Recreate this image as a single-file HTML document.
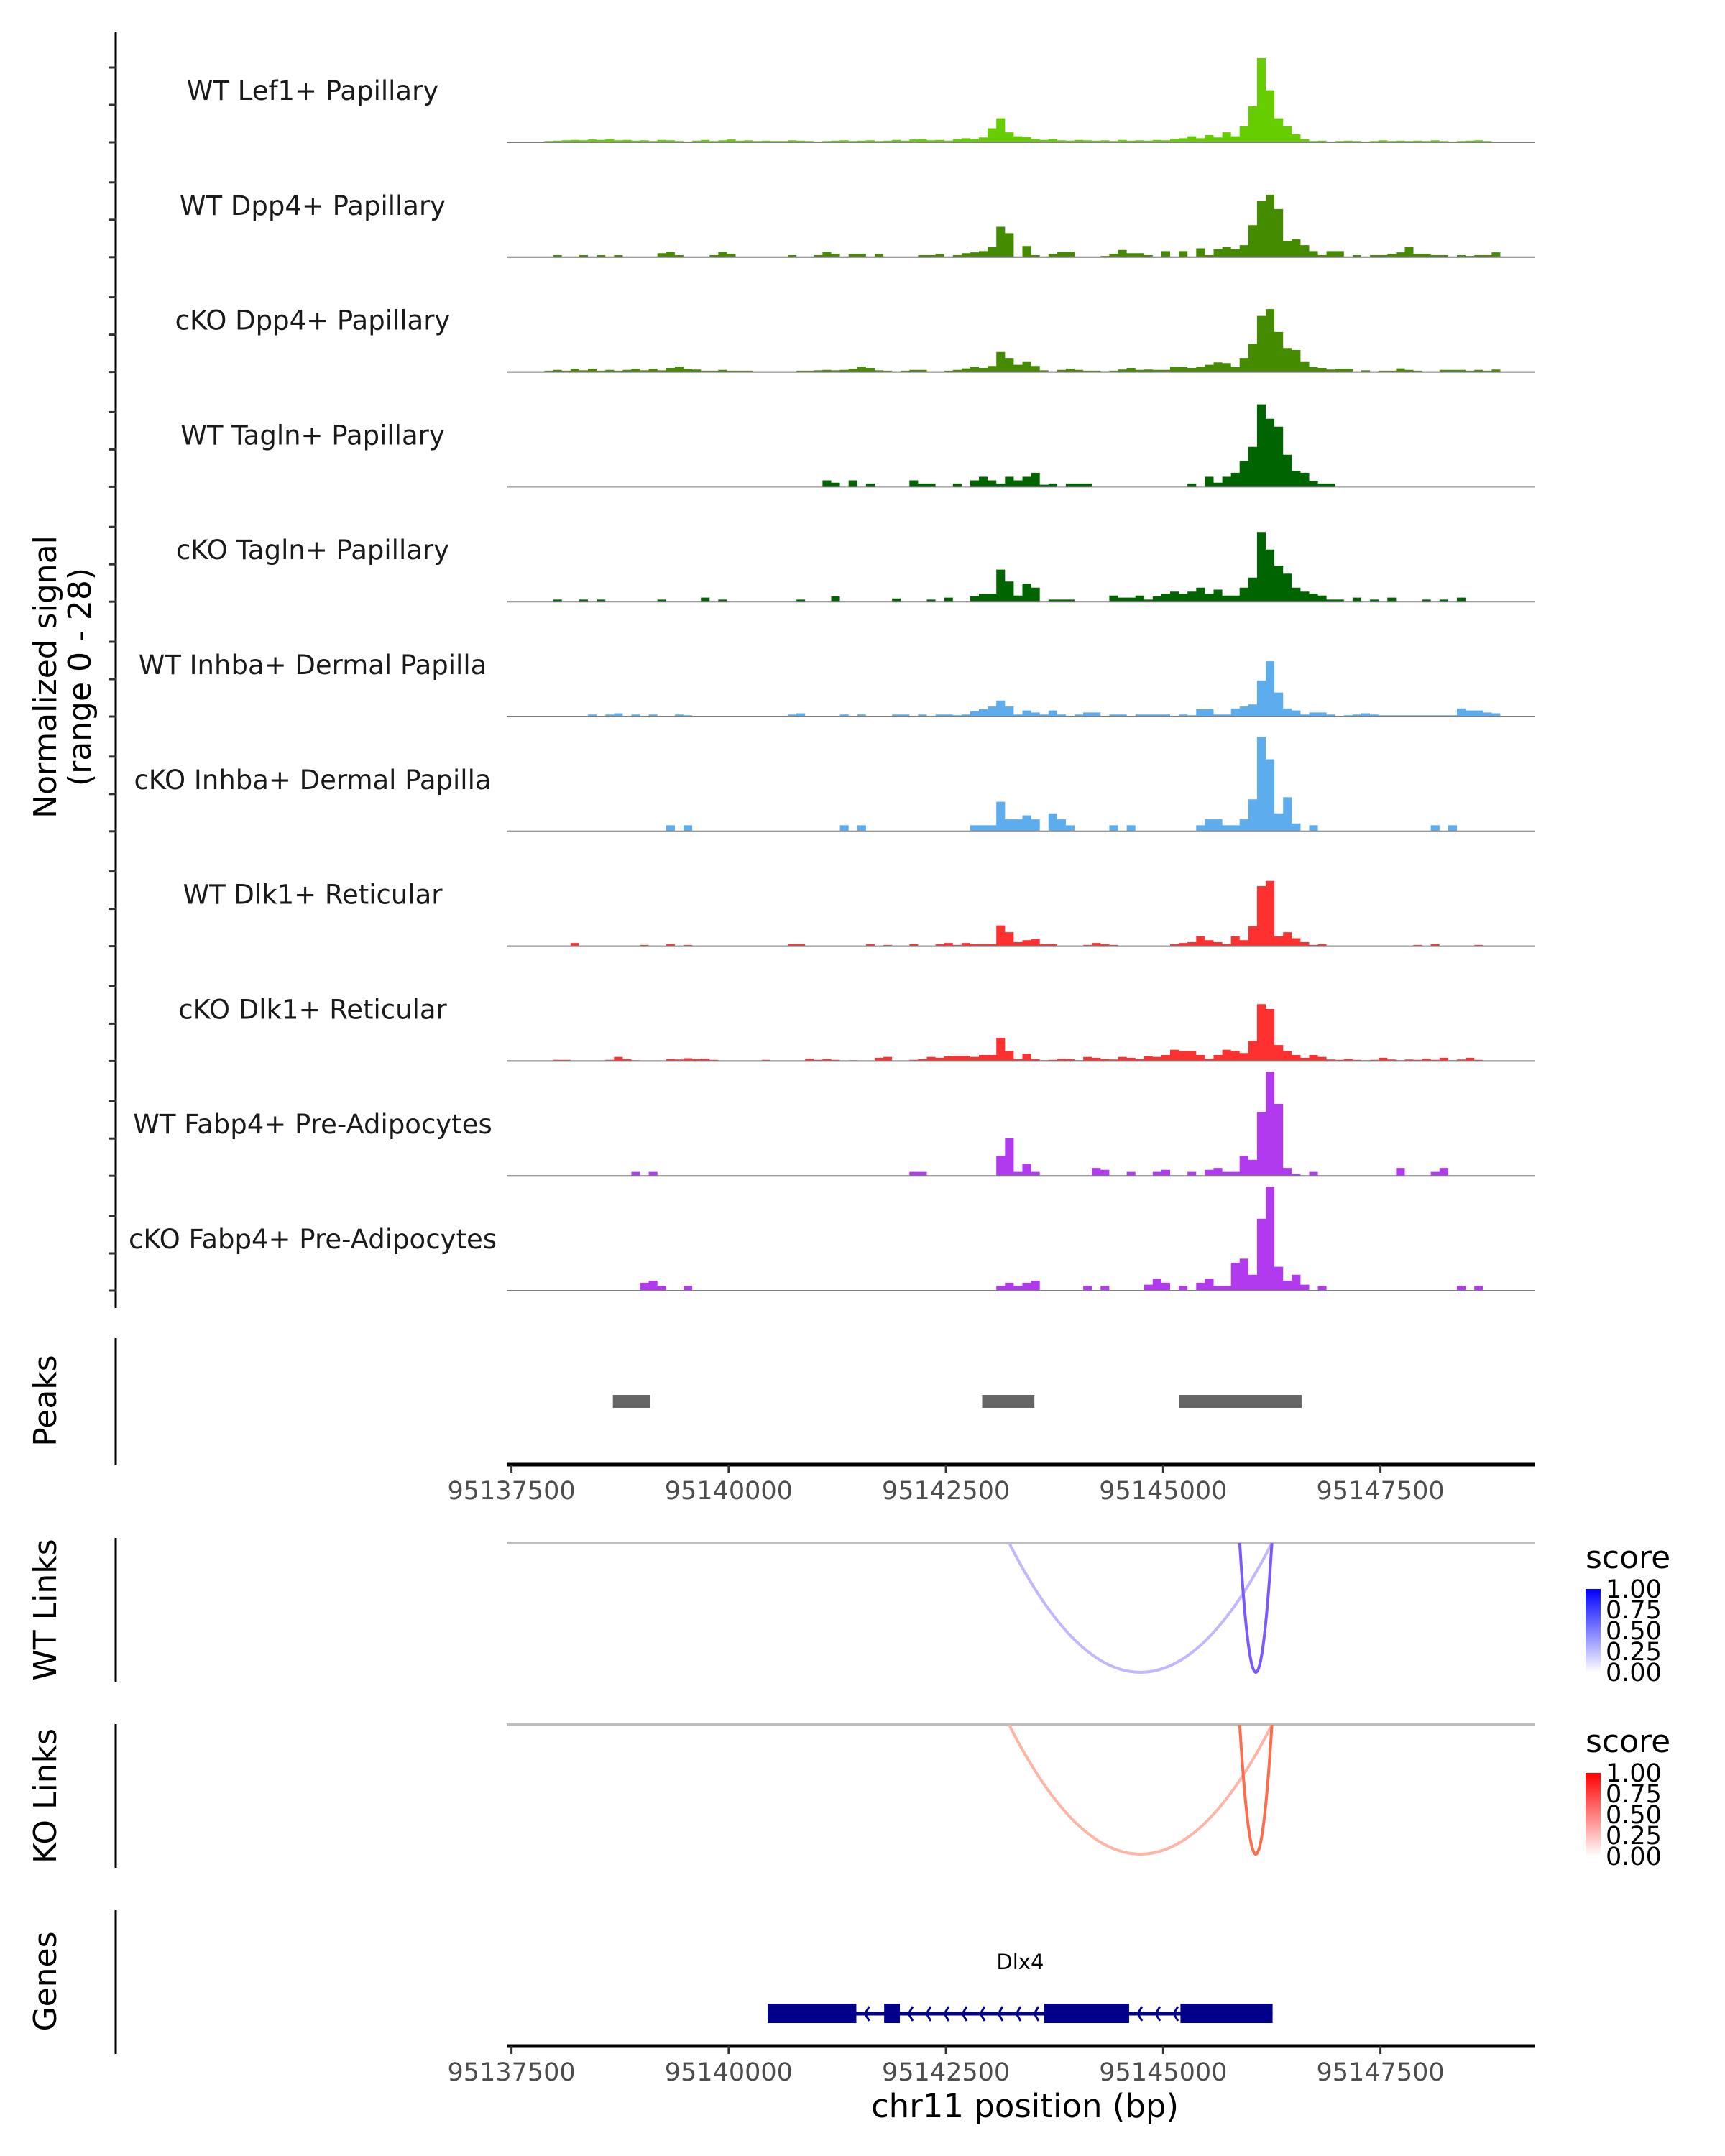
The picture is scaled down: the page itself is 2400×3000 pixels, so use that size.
<!DOCTYPE html>
<html><head><meta charset="utf-8"><style>
html,body{margin:0;padding:0;background:#fff;}
svg{display:block;font-family:"DejaVu Sans","Liberation Sans",sans-serif;}
</style></head><body>
<svg id="chart" width="2400" height="3000" viewBox="0 0 2400 3000" xmlns="http://www.w3.org/2000/svg">
<defs>
<linearGradient id="gradBlue" x1="0" y1="1" x2="0" y2="0"><stop offset="0" stop-color="#ffffff"/><stop offset="1" stop-color="#0000ff"/></linearGradient>
<linearGradient id="gradRed" x1="0" y1="1" x2="0" y2="0"><stop offset="0" stop-color="#ffffff"/><stop offset="1" stop-color="#ff0000"/></linearGradient>
</defs>
<g id="tracks"></g>
<g id="bottom"></g>
</svg>
<script>
const NS = "http://www.w3.org/2000/svg";
// ---- data ----
const binStart = 95137780;
const binSize = 100;
const trackNames = ["WT Lef1+ Papillary","WT Dpp4+ Papillary","cKO Dpp4+ Papillary","WT Tagln+ Papillary","cKO Tagln+ Papillary","WT Inhba+ Dermal Papilla","cKO Inhba+ Dermal Papilla","WT Dlk1+ Reticular","cKO Dlk1+ Reticular","WT Fabp4+ Pre-Adipocytes","cKO Fabp4+ Pre-Adipocytes"];
const trackColors = ["#66CD00","#458B00","#458B00","#006400","#006400","#5CACEE","#5CACEE","#FF3030","#FF3030","#B23AEE","#B23AEE"];
const sigLef1 = [0,0.3,0.4,0.5,0.6,0.5,0.7,0.6,0.8,0.5, 0.6,0.4,0.5,0.3,0.6,0.5,0.3,0.2,0.4,0.6, 0.3,0.5,0.7,0.4,0.5,0.3,0.4,0.3,0.3,0.5, 0.4,0.3,0.2,0.3,0.4,0.5,0.3,0.4,0.5,0.3, 0.4,0.6,0.4,0.7,0.8,0.5,0.6,0.4,0.8,1.0, 0.8,1.2,3.5,6.0,2.5,1.5,1.3,0.8,0.6,0.8, 0.5,0.4,0.6,0.5,0.4,0.5,0.3,0.6,0.4,0.5, 0.4,0.6,0.5,0.8,1.0,1.5,1.0,1.8,1.2,2.5, 1.5,4.0,9.0,21.0,13.0,6.0,4.0,2.0,0.8,0.3, 0.4,0.2,0.3,0.4,0.3,0.2,0.3,0.5,0.3,0.4, 0.3,0.4,0.3,0.5,0.3,0.2,0.3,0.4,0.5,0.3,0,0];
const sigWtDpp4 = [0,0,0.5,0,0,0.5,0,0.5,0,0.5, 0,0,0,0,1.0,1.3,0.5,0,0,0, 0.5,1.3,0.8,0,0,0,0,0,0,0.5, 0,0,0.5,1.3,0.8,0,0.8,0.8,0,0.8, 0,0,0,0,0.5,0.5,0.8,0,0.5,1.0, 1.2,1.5,2.5,7.6,6.0,0,2.8,0.5,0,0.8, 1.3,1.3,0,0,0,0.3,0.8,1.8,1.0,1.0, 0.5,0,1.5,0,1.5,0,2.2,0.5,2.0,2.5, 2.0,3.0,8.0,14.0,15.6,12.0,4.0,4.5,3.0,1.5, 0.5,1.5,1.5,0,0.5,0,0.5,0.5,0.8,1.2, 2.5,0.8,0.8,0.5,0.5,0,0.5,0.3,0.5,0.5,1.2,0];
const sigKoDpp4 = [0,0.3,0.5,0.3,0.8,0.4,0.8,0.3,0.5,0.3, 0.5,0.8,0.4,0.8,0.4,1.0,1.3,0.8,0.6,0.3, 0.3,0.5,0.3,0.3,0.3,0,0,0,0,0, 0.3,0.3,0.4,0.5,0.4,0.5,0.8,1.3,1.0,0.4, 0.3,0,0.3,0.5,0.5,0,0,0.3,0.5,0.9, 1.2,1.0,1.5,5.0,3.5,1.8,2.5,1.5,0.4,0, 0.5,0.8,0.5,0.3,0.3,0.2,0.3,0.6,1.0,0.5, 0.6,0.5,0.5,1.3,1.2,1.0,1.3,1.8,2.4,2.2, 1.2,3.5,7.0,14.0,15.7,10.0,6.0,5.5,2.5,1.2, 1.0,0.6,0.8,0.8,0,0.4,0,0.3,0.3,0.9, 0.5,0.3,0,0,0.5,0.5,0.5,0.3,0.5,0.3,0.6,0];
const sigWtTagln = [0,0,0,0,0,0,0,0,0,0, 0,0,0,0,0,0,0,0,0,0, 0,0,0,0,0,0,0,0,0,0, 0,0,0,1.6,1.0,0,1.6,0,0.8,0, 0,0,0,1.6,0.8,0.8,0,0,0.8,0, 1.6,2.5,1.6,0.8,2.5,1.6,2.5,3.5,0.5,0.8, 0,0.8,0.8,0.8,0,0,0,0,0,0, 0,0,0,0,0,0.8,0,2.5,1.0,2.5, 3.5,6.5,10.0,20.6,17.0,15.0,8.0,4.0,3.5,1.5, 0.8,0.8,0,0,0,0,0,0,0,0, 0,0,0,0,0,0,0,0,0,0,0,0];
const sigKoTagln = [0,0,0.5,0,0,0.5,0,0.5,0,0, 0,0,0,0,0.5,0,0,0,0,1.0, 0,0.5,0,0,0,0,0,0,0,0, 0.5,0,0,0,1.3,0,0,0,0,0, 0,0.8,0,0,0,0.5,0,1.0,0,0, 1.3,2.0,2.0,8.0,5.0,1.5,4.5,3.5,0,0.5, 0.5,0.5,0,0,0,0,1.5,1.0,1.0,1.5, 0.5,1.3,2.0,2.5,2.0,2.5,3.5,2.0,3.0,1.5, 1.5,3.5,6.0,17.4,13.0,9.0,7.0,3.5,2.5,2.0, 1.5,0.5,0.5,0,1.0,0,0.5,0,1.0,0, 0,0,0.5,0,0.5,0,1.0,0,0,0,0,0];
const sigWtInhba = [0,0,0,0,0,0,0.5,0,0.5,0.8, 0,0.5,0,0.5,0,0,0.5,0.3,0,0, 0,0,0,0,0,0,0,0,0,0.5, 0.8,0,0,0,0,0.5,0,0.5,0,0, 0,0.5,0.5,0,0.5,0,0.5,0.5,0.3,0.5, 1.3,1.8,2.5,4.0,2.5,0.5,1.5,1.0,0.5,1.5, 0.5,0,0.5,1.0,1.0,0,0.5,0.5,0,0.5, 0.5,0.5,0.5,0,0.5,0.3,1.8,1.8,0.5,0.5, 2.0,2.5,3.0,9.0,13.8,6.0,2.0,1.5,0.5,1.0, 1.0,0.5,0,0.3,0.5,0.8,0.5,0.3,0.3,0.3, 0.3,0.3,0.3,0.3,0.3,0.3,2.0,1.5,1.5,1.0,0.8,0];
const sigKoInhba = [0,0,0,0,0,0,0,0,0,0, 0,0,0,0,0,1.5,0,1.5,0,0, 0,0,0,0,0,0,0,0,0,0, 0,0,0,0,0,1.5,0,1.5,0,0, 0,0,0,0,0,0,0,0,0,0, 1.5,1.5,1.5,7.4,3.0,3.0,4.0,3.0,0,4.5, 3.0,1.5,0,0,0,0,1.5,0,1.5,0, 0,0,0,0,0,0,1.5,3.0,3.0,1.5, 1.5,3.0,8.0,23.6,18.0,4.5,8.5,2.0,0,1.5, 0,0,0,0,0,0,0,0,0,0, 0,0,0,1.5,0,1.5,0,0,0,0,0,0];
const sigWtDlk1 = [0,0,0,0,0.8,0,0,0,0,0, 0,0,0.3,0,0,0.5,0,0.3,0,0, 0,0,0,0,0,0,0,0,0,0.5, 0.5,0,0,0,0,0,0,0,0.5,0, 0.3,0,0,0.5,0,0,0.5,0.8,0.3,0.8, 0.5,0.5,0.5,5.2,3.5,1.0,1.5,1.8,0.5,0.5, 0,0,0,0.3,0.8,0.5,0.3,0,0,0, 0,0,0,0.5,0.8,1.0,2.5,1.5,1.0,0.5, 2.5,1.5,5.0,15.0,16.3,2.5,3.5,2.0,1.0,0.3, 0.5,0,0,0,0,0,0,0,0,0, 0,0.3,0,0.5,0,0,0,0,0.3,0,0,0];
const sigKoDlk1 = [0,0,0.3,0.3,0,0,0,0,0.3,1.0, 0.5,0.2,0,0,0,0.5,0.4,0.7,0.5,0.6, 0.3,0,0,0,0,0,0.3,0,0,0, 0,0.6,0.3,0.5,0.3,0,0.2,0,0,0.8, 1.0,0,0,0.3,0.5,1.0,0.8,1.2,1.3,1.3, 1.0,1.5,1.5,5.8,2.5,0.5,1.8,0.5,0.2,0.3, 0.6,0.5,0.2,1.0,0.8,0.5,0.4,1.0,0.8,0.5, 1.2,1.0,1.5,2.8,2.5,2.5,1.5,0.6,1.5,2.8, 2.5,2.0,5.0,14.2,13.0,4.0,2.5,1.5,0.8,1.5, 1.0,0.4,0.3,0.5,0.3,0.2,0.3,0.8,0.4,0.2, 0.4,0.3,0.6,0.3,0.8,0.2,0.4,0.8,0.3,0,0,0];
const sigWtFabp4 = [0,0,0,0,0,0,0,0,0,0, 0,1.0,0,1.0,0,0,0,0,0,0, 0,0,0,0,0,0,0,0,0,0, 0,0,0,0,0,0,0,0,0,0, 0,0,0,1.0,1.0,0,0,0,0,0, 0,0,0,5.0,9.4,1.0,3.0,1.0,0,0, 0,0,0,0,2.0,1.5,0,0,1.0,0, 0,1.0,1.5,0,0,1.0,0,1.5,2.0,1.0, 1.0,5.0,4.0,16.0,26.0,18.0,2.0,0.5,0,1.0, 0,0,0,0,0,0,0,0,0,2.0, 0,0,0,1.0,2.0,0,0,0,0,0,0,0];
const sigKoFabp4 = [0,0,0,0,0,0,0,0,0,0, 0,0,2.0,2.5,1.2,0,0,1.2,0,0, 0,0,0,0,0,0,0,0,0,0, 0,0,0,0,0,0,0,0,0,0, 0,0,0,0,0,0,0,0,0,0, 0,0,0,1.2,2.0,1.2,2.0,2.5,0,0, 0,0,0,1.2,0,1.2,0,0,0,0, 1.5,3.0,2.0,0,1.2,0,2.0,3.0,1.2,1.2, 7.0,8.0,4.0,18.0,26.0,6.0,2.5,4.0,1.5,0, 1.2,0,0,0,0,0,0,0,0,0, 0,0,0,0,0,0,1.2,0,1.2,0,0,0];
const signals = [sigLef1,sigWtDpp4,sigKoDpp4,sigWtTagln,sigKoTagln,sigWtInhba,sigKoInhba,sigWtDlk1,sigKoDlk1,sigWtFabp4,sigKoFabp4];
const xTicks = [95137500,95140000,95142500,95145000,95147500];
const peakStarts = [95138667,95142917,95145179];
const peakEnds = [95139094,95143518,95146593];
const linkStarts = [95143227,95145881];
const linkEnds = [95146251,95146251];
const wtLinkScores = [0.35,0.8];
const koLinkScores = [0.4,0.8];
const legendTicks = ["1.00","0.75","0.50","0.25","0.00"];
const exonStarts = [95140450,95141789,95143630,95145199];
const exonEnds = [95141469,95141970,95144608,95146259];
const geneStart = 95140450, geneEnd = 95146259;
const yMax = 28;

// ---- scales ----
const X0 = 711.6, PXBP = 0.1209;
function xs(bp){ return X0 + (bp - 95137500) * PXBP; }
const base0 = 198, trackStep = 159.8, trackH = 156;
function ys(v, t){ return base0 + t*trackStep - v/yMax*trackH; }
const PL = 705, PR = 2136;

const tracks = document.getElementById('tracks');
const bottom = document.getElementById('bottom');
function mk(tag, attrs, parent){ const e=document.createElementNS(NS,tag); for(const k in attrs) e.setAttribute(k,attrs[k]); (parent||tracks).appendChild(e); return e; }

// left axis
let ax = mk('line',{x1:161,y1:45,x2:161,y2:1820,stroke:'#000','stroke-width':3});


for(let t=0;t<11;t++){
  for(let k=0;k<3;k++){
    const yy = base0 + t*trackStep - k*52;
    const tk = mk('line',{x1:151,y1:yy,x2:161,y2:yy,stroke:'#333','stroke-width':3});
    
    
  }
}
let yt = mk('text',{x:0,y:0,'font-size':44,'text-anchor':'middle',fill:'#000',transform:'translate(78,942) rotate(-90)'});


yt.innerHTML = '<tspan x="0" dy="0">Normalized signal</tspan><tspan x="0" dy="48">(range 0 - 28)</tspan>';

// tracks
signals.forEach((arr,t)=>{
  const g = mk('g',{});
  
  
  const b = ys(0,t);
  let d = 'M'+xs(binStart).toFixed(1)+' '+b;
  arr.forEach((v,i)=>{
    const xa = xs(binStart+i*binSize), xb = xs(binStart+(i+1)*binSize), yv = ys(v,t);
    d += ' L'+xa.toFixed(1)+' '+yv.toFixed(1)+' L'+xb.toFixed(1)+' '+yv.toFixed(1);
  });
  d += ' L'+xs(binStart+arr.length*binSize).toFixed(1)+' '+b+' Z';
  const p = mk('path',{d:d,fill:trackColors[t],stroke:'none'},g);
  
  
  const bl = mk('line',{x1:PL,y1:b,x2:PR,y2:b,stroke:'#7f7f7f','stroke-width':2},g);
  
  
  const lb = mk('text',{x:435,y:b-59,'font-size':37,'text-anchor':'middle',fill:'#1a1a1a'},g);
  
  
  lb.textContent = trackNames[t];
});

// bottom panel axes + labels
function sideAxis(y1,y2,label,ly,name){
  const l = mk('line',{x1:161,y1:y1,x2:161,y2:y2,stroke:'#000','stroke-width':3},bottom);
  
  
  const tx = mk('text',{x:0,y:0,'font-size':44,'text-anchor':'middle',fill:'#000',transform:'translate(78,'+ly+') rotate(-90)'},bottom);
  
  
  tx.textContent = label;
}
sideAxis(1862,2039,'Peaks',1949,'peaks');
sideAxis(2140,2340,'WT Links',2240,'wt-links');
sideAxis(2399,2599,'KO Links',2499,'ko-links');
sideAxis(2658,2858,'Genes',2757,'genes');

// peaks
peakStarts.forEach((s,i)=>{
  const r = mk('rect',{x:xs(s),y:1941,width:xs(peakEnds[i])-xs(s),height:18,fill:'#666666'},bottom);
  
  
});

function xAxis(y,name){
  const l = mk('line',{x1:PL,y1:y,x2:PR,y2:y,stroke:'#000','stroke-width':5},bottom);
  
  
  xTicks.forEach(v=>{
    const tk = mk('line',{x1:xs(v),y1:y,x2:xs(v),y2:y+11,stroke:'#333','stroke-width':3},bottom);
    
    
    const tl = mk('text',{x:xs(v),y:y+48,'font-size':35,'text-anchor':'middle',fill:'#4d4d4d'},bottom);
    
    
    tl.textContent = v;
  });
}
xAxis(2038,'peaks-x-axis');

// links
function linkPanel(y0,depth,scores,lo,hi,name){
  const gl = mk('line',{x1:PL,y1:y0,x2:PR,y2:y0,stroke:'#bebebe','stroke-width':4},bottom);
  
  
  linkStarts.forEach((s,i)=>{
    const a = xs(s), b = xs(linkEnds[i]), m=(a+b)/2;
    const sc = scores[i];
    const c = 'rgb('+[0,1,2].map(k=>Math.round(lo[k]+(hi[k]-lo[k])*sc)).join(',')+')';
    const p = mk('path',{d:'M'+a+' '+y0+' Q'+m+' '+(y0+2*depth)+' '+b+' '+y0,fill:'none',stroke:c,'stroke-width':4},bottom);
    
    
  });
}
linkPanel(2147,180,wtLinkScores,[255,255,255],[90,47,255],'wt-link');
linkPanel(2400,180,koLinkScores,[255,255,255],[255,70,30],'ko-link');

function legend(ty,by,grad,name){
  const t = mk('text',{x:2206,y:ty+14,'font-size':44,fill:'#000'},bottom);
  
  
  t.textContent='score';
  const r = mk('rect',{x:2206,y:by,width:21,height:116,fill:'url(#'+grad+')'},bottom);
  
  
  legendTicks.forEach((lab,i)=>{
    const yy = by + i*29;
    const tl = mk('text',{x:2234,y:yy+12,'font-size':35,fill:'#000'},bottom);
    
    
    tl.textContent = lab;
  });
}
legend(2168,2211,'gradBlue','wt');
legend(2424,2467,'gradRed','ko');

// gene
const gg = mk('g',{},bottom);


const intr = mk('line',{x1:xs(geneStart),y1:2802,x2:xs(geneEnd),y2:2802,stroke:'#00008b','stroke-width':5},gg);


for(let i=0;i<exonStarts.length-1;i++){
  const a = xs(exonEnds[i]), b = xs(exonStarts[i+1]);
  for(let x=a+12; x<b-6; x+=25){
    const ch = mk('path',{d:'M'+(x+6)+' 2792 L'+x+' 2802 L'+(x+6)+' 2812',fill:'none',stroke:'#00008b','stroke-width':3},gg);
    
    
  }
}
exonStarts.forEach((s,i)=>{
  const r = mk('rect',{x:xs(s),y:2788,width:xs(exonEnds[i])-xs(s),height:27,fill:'#00008b'},gg);
  
  
});
const gl = mk('text',{x:(xs(geneStart)+xs(geneEnd))/2,y:2740,'font-size':29,'text-anchor':'middle',fill:'#000'},gg);


gl.textContent='Dlx4';
xAxis(2847,'genes-x-axis');
const xt = mk('text',{x:1426,y:2946,'font-size':45,'text-anchor':'middle',fill:'#000'},bottom);


xt.textContent='chr11 position (bp)';
</script>
</body></html>
